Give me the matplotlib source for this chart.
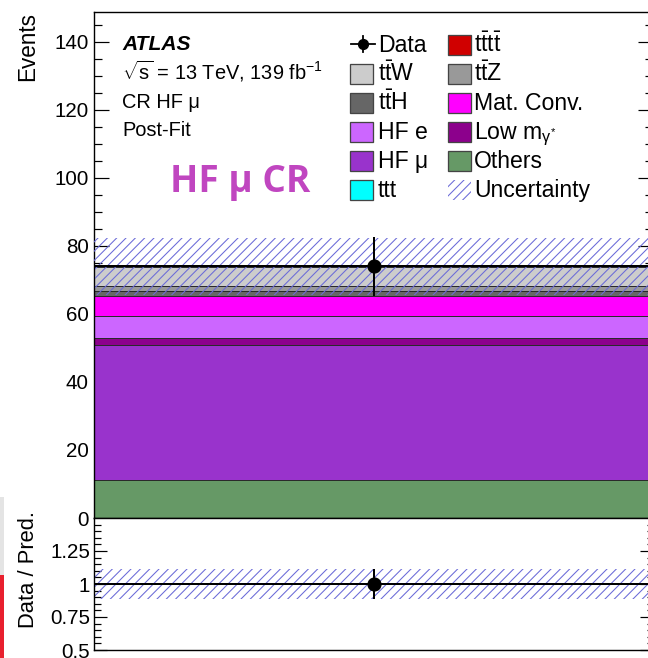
import matplotlib
matplotlib.use("Agg")
import matplotlib.pyplot as plt
from matplotlib.patches import Rectangle
from matplotlib.lines import Line2D
import numpy as np

# Stapel von unten nach oben (CR HF mu, Post-Fit)
samples = ["ttt", "Others", "HF mu", "Low mgamma", "HF e", "Mat. Conv.", "ttH", "ttZ", "ttW", "tttt"]
yields = [0.05, 11.1, 39.8, 1.9, 6.6, 5.9, 1.3, 1.6, 5.6, 0.15]
colors = ["#00FFFF", "#669966", "#9933CC", "#8C008C", "#CC66FF", "#FF00FF",
          "#666666", "#999999", "#CCCCCC", "#D00000"]
bin_edges = [0.0, 1.0]
data_y = [74.0]
data_err = [8.6]
unc = [8.3]

# Legende, zeilenweise (links, rechts)
leg_left = [("Data", None), (r"$\mathrm{t\bar{t}W}$", "#CCCCCC"), (r"$\mathrm{t\bar{t}H}$", "#666666"),
            ("HF e", "#CC66FF"), ("HF μ", "#9933CC"), ("ttt", "#00FFFF")]
leg_right = [(r"$\mathrm{t\bar{t}t\bar{t}}$", "#D00000"), (r"$\mathrm{t\bar{t}Z}$", "#999999"),
             ("Mat. Conv.", "#FF00FF"), (r"Low $\mathrm{m_{\gamma^{*}}}$", "#8C008C"),
             ("Others", "#669966"), ("Uncertainty", "hatch")]

W, H, DPI = 648, 658, 84
HATCH = "#6A6AD8"

def pt(px):
    return px * 72.0 / DPI

def fx(px):
    return px / W

def fy(py):
    return 1.0 - py / H

plt.rcParams["font.family"] = ["Liberation Sans", "DejaVu Sans"]
plt.rcParams["mathtext.fontset"] = "custom"
plt.rcParams["mathtext.rm"] = "Liberation Sans"
plt.rcParams["mathtext.it"] = "Liberation Sans:italic"
plt.rcParams["mathtext.bf"] = "Liberation Sans:bold"
plt.rcParams["hatch.linewidth"] = 0.9
plt.rcParams["axes.linewidth"] = pt(1.4)

fig = plt.figure(figsize=(W / DPI, H / DPI), dpi=DPI)
left, right = 94, 653
ax = fig.add_axes([fx(left), fy(518), fx(right - left), (518 - 12) / H])
rax = fig.add_axes([fx(left), fy(650), fx(right - left), (650 - 518) / H])

# Hauptpanel: gestapelte Untergründe
x = 0.5 * (bin_edges[0] + bin_edges[1])
width = bin_edges[1] - bin_edges[0]
bottom = 0.0
for name, val, col in zip(samples, yields, colors):
    ax.bar([x], [val], bottom=[bottom], width=width, color=col,
           edgecolor="#2a2a2a", linewidth=pt(1.0), zorder=2)
    bottom += val
total = np.array([sum(yields)])
ax.stairs(total, bin_edges, color="k", linewidth=pt(2.0), zorder=4)
ax.bar([x], [2 * unc[0]], bottom=total - unc[0], width=width, fill=False,
       hatch="///", edgecolor=HATCH, linewidth=0, zorder=3)
ax.errorbar([x], data_y, yerr=data_err, fmt="o", color="k", ms=pt(13),
            elinewidth=pt(2.0), capsize=0, zorder=5)

ax.set_xlim(bin_edges[0], bin_edges[-1])
ax.set_ylim(0, 148.8)
ax.set_xticks([])
ax.set_yticks(np.arange(0, 141, 20))
ax.set_yticks(np.arange(0, 149, 5), minor=True)
ax.tick_params(axis="y", which="both", direction="in", left=True, right=True,
               labelsize=pt(20.5), pad=pt(5))
ax.tick_params(axis="y", which="major", length=pt(15), width=pt(1.2))
ax.tick_params(axis="y", which="minor", length=pt(8), width=pt(1.2))

# Verhältnis-Panel
ratio = np.array(data_y) / total
ratio_err = np.array(data_err) / total
ratio_unc = np.array(unc) / total
rax.bar([x], [2 * ratio_unc[0]], bottom=1 - ratio_unc[0], width=width, fill=False,
        hatch="///", edgecolor=HATCH, linewidth=0, zorder=2)
rax.axhline(1.0, color="k", linewidth=pt(2.0), zorder=3)
rax.errorbar([x], ratio, yerr=ratio_err, fmt="o", color="k", ms=pt(13),
             elinewidth=pt(2.0), capsize=0, zorder=5)
rax.set_xlim(bin_edges[0], bin_edges[-1])
rax.set_ylim(0.5, 1.5)
rax.set_xticks([])
rax.set_yticks([0.5, 0.75, 1.0, 1.25])
rax.set_yticklabels(["0.5", "0.75", "1", "1.25"])
rax.set_yticks(np.arange(0.5, 1.5, 0.05), minor=True)
rax.tick_params(axis="y", which="both", direction="in", left=True, right=True,
                labelsize=pt(20.5), pad=pt(4))
rax.tick_params(axis="y", which="major", length=pt(13), width=pt(1.2))
rax.tick_params(axis="y", which="minor", length=pt(6.5), width=pt(1.2))

# Achsenbeschriftungen
fig.text(fx(28), fy(12), "Events", rotation=90, ha="center", va="top", fontsize=pt(22.5))
fig.text(fx(28), fy(570), "Data / Pred.", rotation=90, ha="center", va="center", fontsize=pt(22))

# ATLAS-Block
fig.text(fx(122), fy(50), "ATLAS", fontsize=pt(21), fontweight="bold", fontstyle="italic", va="baseline")
fig.text(fx(122), fy(80), r"$\sqrt{\mathrm{s}}$ = 13 TeV, 139 fb$^{\mathrm{-1}}$", fontsize=pt(20), va="baseline")
fig.text(fx(122), fy(108.5), "CR HF μ", fontsize=pt(20), va="baseline")
fig.text(fx(122), fy(135.5), "Post-Fit", fontsize=pt(20), va="baseline")
fig.text(fx(170), fy(192), "HF μ CR", fontsize=pt(37), fontweight="bold",
         color="#C046C0", family=["Open Sans", "DejaVu Sans"], va="baseline")

# Legende von Hand
rows = [45, 74, 103, 132, 161, 190]
def key(xpx, ypx, col):
    if col == "hatch":
        p = Rectangle((fx(xpx), fy(ypx + 10)), fx(22.5), 20 / H, transform=fig.transFigure,
                      fill=False, hatch="///", edgecolor=HATCH, linewidth=0)
    else:
        p = Rectangle((fx(xpx), fy(ypx + 10)), fx(22.5), 20 / H, transform=fig.transFigure,
                      facecolor=col, edgecolor="#444444", linewidth=pt(1.3))
    fig.add_artist(p)

for yr, (lab, col) in zip(rows, leg_left):
    if col is None:
        fig.add_artist(Line2D([fx(351), fx(375)], [fy(yr - 1.5)] * 2, color="k",
                              linewidth=pt(1.8), transform=fig.transFigure))
        fig.add_artist(Line2D([fx(363)] * 2, [fy(yr - 9.5), fy(yr + 6.5)], color="k",
                              linewidth=pt(1.8), transform=fig.transFigure))
        fig.add_artist(Line2D([fx(363)], [fy(yr - 1.5)], marker="o", ms=pt(10), color="k",
                              transform=fig.transFigure))
    else:
        key(350, yr, col)
    fig.text(fx(378), fy(yr + 7), lab, fontsize=pt(23), va="baseline")

for yr, (lab, col) in zip(rows, leg_right):
    key(448, yr, col)
    fig.text(fx(474), fy(yr + 7), lab, fontsize=pt(23), va="baseline")

# Ränder des Bildschirmfotos links
fig.add_artist(Rectangle((0, fy(575)), fx(3.5), (575 - 497) / H, transform=fig.transFigure,
                         facecolor="#E4E4E4", edgecolor="none"))
fig.add_artist(Rectangle((0, 0), fx(3.5), (658 - 575) / H, transform=fig.transFigure,
                         facecolor="#E8202E", edgecolor="none"))

fig.savefig("out.png", dpi=DPI)
